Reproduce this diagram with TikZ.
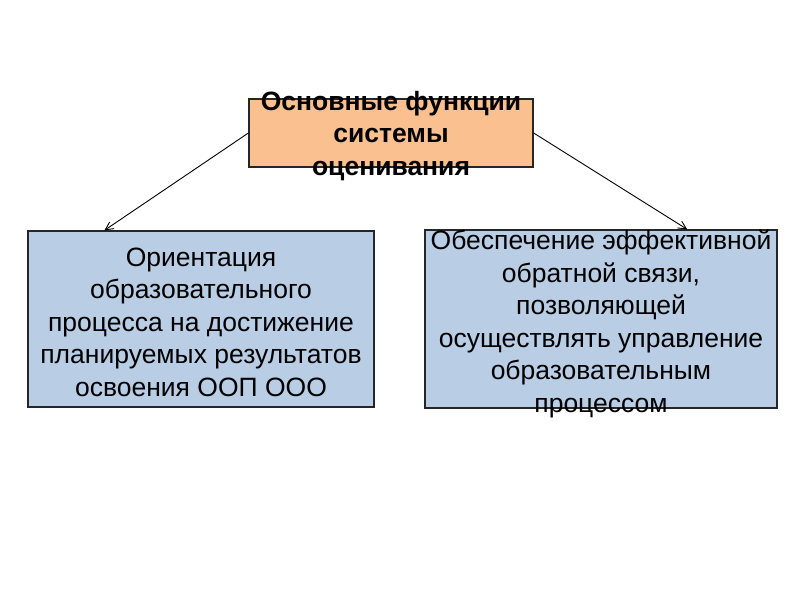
\documentclass[tikz,border=0pt]{standalone}
\usepackage{fontspec}
\setmainfont{Liberation Sans}
\usepackage{xcolor}
\usetikzlibrary{arrows.meta,calc}

\definecolor{peach}{RGB}{250,192,144}
\definecolor{paleblue}{RGB}{185,205,229}
% text that may run over the box edge, centred on it (#2 pushes it down)
\newcommand{\ovtext}[3]{\parbox[c][0pt][c]{#1}{\centering\vspace*{#2}#3}}

\begin{document}
\begin{tikzpicture}[
		x=1pt, y=-1pt,
		font=\fontsize{26.5}{32.5}\selectfont,
		box/.style={draw=black!85, line width=1.3pt, inner sep=0pt},
		arr/.style={-{Straight Barb[length=8pt,width=8pt]}, line width=0.9pt}
		]
		\useasboundingbox (0,0) rectangle (800,600);
		\node[box, fill=peach, minimum width=284pt, minimum height=68pt] (top) at (391,133)
		{\ovtext{282pt}{12pt}{\bfseries Основные функции\\ системы\\ оценивания}};
		\node[box, fill=paleblue, minimum width=346pt, minimum height=176pt] (left) at (201,319)
		{\ovtext{344pt}{12pt}{Ориентация\\ образовательного\\ процесса на достижение\\
			планируемых результатов\\ освоения ООП ООО}};
		\node[box, fill=paleblue, minimum width=352pt, minimum height=178pt] (right) at (601,319)
		{\ovtext{350pt}{16pt}{Обеспечение эффективной\\ обратной связи,\\ позволяющей\\
			осуществлять управление\\ образовательным\\ процессом}};
		\draw[arr] (top.west) -- ($(left.north west)!0.222!(left.north east)$);
		\draw[arr] (top.east) -- ($(right.north west)!0.744!(right.north east)$);
	\end{tikzpicture}
\end{document}
